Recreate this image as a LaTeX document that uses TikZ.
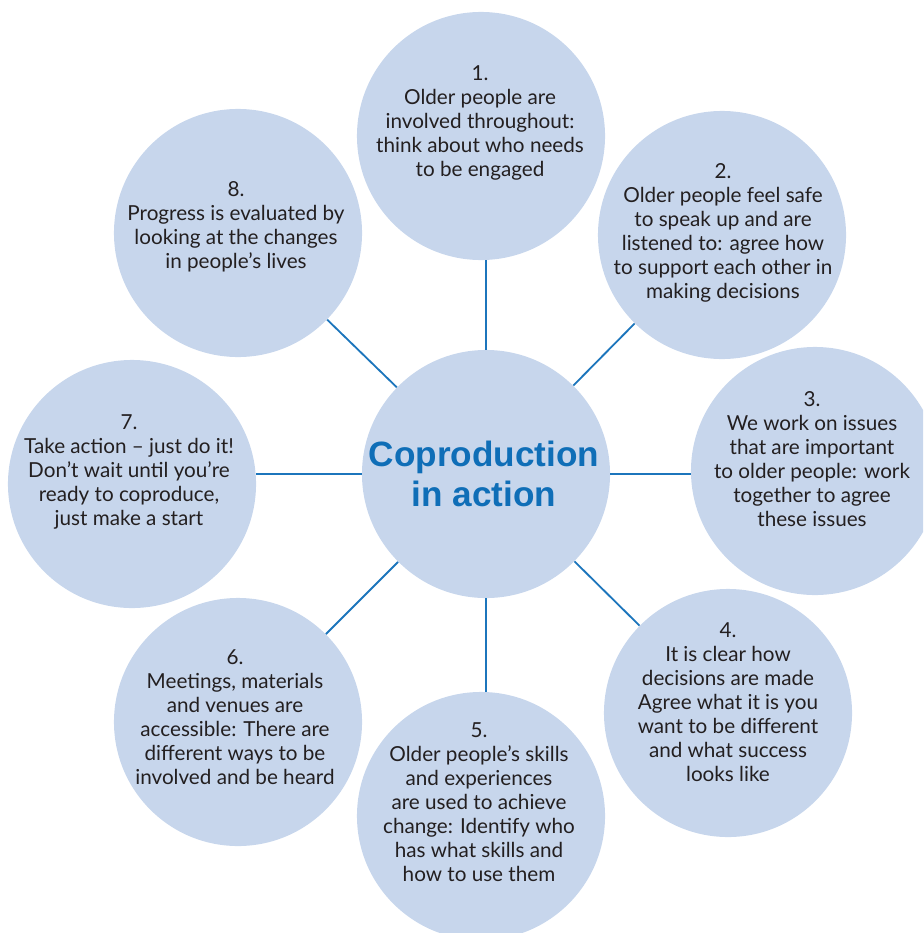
\documentclass[tikz,border=0pt]{standalone}
\usepackage{fontspec}
\setmainfont{Lato}
\newfontfamily\titlefont{Liberation Sans}
\usepackage{tikz}
\usetikzlibrary{positioning}
\definecolor{bubble}{HTML}{C7D6EC}
\definecolor{linkblue}{HTML}{1C75BC}
\definecolor{titleblue}{HTML}{0F6EB7}
\definecolor{ink}{HTML}{231F20}
\tikzstyle{idea}=[circle, fill=bubble, minimum size=6.2cm, inner sep=0pt]
\tikzstyle{blurb}=[align=center, text=ink, font=\fontsize{14.7}{17}\selectfont]
\tikzstyle{spoke}=[draw=linkblue, line width=1.3pt]

\begin{document}
\begin{tikzpicture}[x=0.025cm, y=-0.025cm]
	\useasboundingbox (0,0) rectangle (923,933);
	\clip (0,0) rectangle (923,933);
	\node[idea] (hub) at (486,474) {};
	\node[idea] (c1) at (481,136) {};
	\node[idea] (c2) at (722,235) {};
	\node[idea] (c3) at (815,471) {};
	\node[idea] (c4) at (728,713) {};
	\node[idea] (c5) at (481,816) {};
	\node[idea] (c6) at (238,722) {};
	\node[idea] (c7) at (132,484) {};
	\node[idea] (c8) at (238,233) {};
	% straight spokes
	\path[spoke] (hub.north) edge (hub.north |- c1.south);
	\path[spoke] (hub.south) edge (hub.south |- c5.north);
	\path[spoke] (hub.east) edge (hub.east -| c3.west);
	\path[spoke] (hub.west) edge (hub.west -| c7.east);
	% diagonal spokes
	\foreach \n in {2,4,6,8}
		\path[spoke] (hub) edge (c\n);
	\node[align=center, text=titleblue, font=\titlefont\bfseries\fontsize{25}{29}\selectfont] (title) at (484,474) {Coproduction\\in action};
	\node[blurb] (t1) at (480,123) {1.\\Older people are\\involved throughout:\\think about who needs\\to be engaged};
	\node[blurb] (t2) at (723,233) {2.\\Older people feel safe\\to speak up and are\\listened to: agree how\\to support each other in\\making decisions};
	\node[blurb] (t3) at (812,459) {3.\\We work on issues\\that are important\\to older people: work\\together to agree\\these issues};
	\node[blurb] (t4) at (728,702) {4.\\It is clear how\\decisions are made\\Agree what it is you\\want to be different\\and what success\\looks like};
	\node[blurb] (t5) at (479,802) {5.\\Older people’s skills\\and experiences\\are used to achieve\\change: Identify who\\has what skills and\\how to use them};
	\node[blurb] (t6) at (235,717) {6.\\Meetings, materials\\and venues are\\accessible: There are\\different ways to be\\involved and be heard};
	\node[blurb] (t7) at (129,472) {7.\\Take action – just do it!\\Don’t wait until you’re\\ready to coproduce,\\just make a start};
	\node[blurb] (t8) at (236,227) {8.\\Progress is evaluated by\\looking at the changes\\in people’s lives};
\end{tikzpicture}
\end{document}
